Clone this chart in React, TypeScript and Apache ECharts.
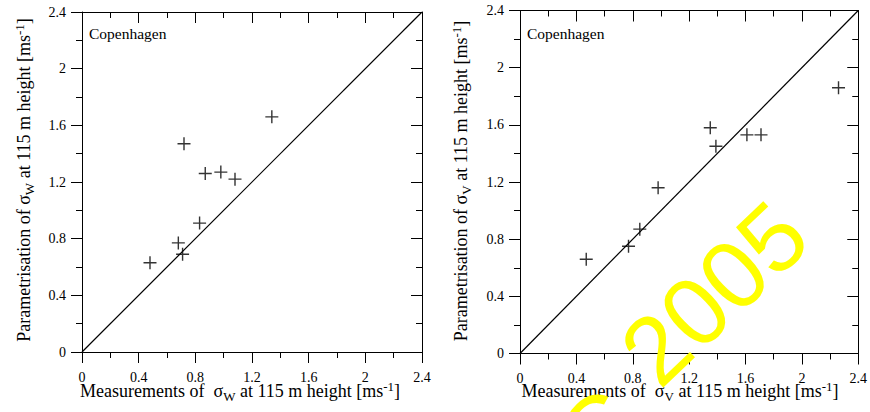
import React, { useEffect, useRef } from "react";
import * as echarts from "echarts";

// ---- data ----
const axisMin = 0;
const axisMax = 2.4;
const axisStep = 0.4;

const wMeasured = [0.48, 0.68, 0.71, 0.72, 0.83, 0.87, 0.98, 1.08, 1.34];
const wParam = [0.63, 0.77, 0.69, 1.47, 0.91, 1.26, 1.27, 1.22, 1.66];

const vMeasured = [0.47, 0.77, 0.85, 0.98, 1.35, 1.39, 1.61, 1.71, 2.26];
const vParam = [0.66, 0.75, 0.87, 1.16, 1.58, 1.45, 1.53, 1.53, 1.86];

const identityLine = [
  [0, 0],
  [2.4, 2.4],
];

const siteName = "Copenhagen";
const watermarkText = "2005";

const SERIF = "'Liberation Serif', 'Times New Roman', serif";
const SANS = "'Liberation Sans', Arial, sans-serif";
const PLUS =
  "path://M5.35,0H6.65V5.35H12V6.65H6.65V12H5.35V6.65H0V5.35H5.35Z";

const fmt = (v: number) => String(+Number(v).toFixed(1));

function axisPair(kind: "x" | "y", gridIndex: number) {
  const common = {
    gridIndex,
    type: "value",
    min: axisMin,
    max: axisMax,
    interval: axisStep,
    splitLine: { show: false },
    axisLine: { show: true, onZero: false, lineStyle: { color: "#000", width: 1 } },
    minorTick: { show: true, splitNumber: 2, length: 6, lineStyle: { color: "#000", width: 1 } },
    minorSplitLine: { show: false },
  };
  const main = {
    ...common,
    position: kind === "x" ? "bottom" : "left",
    axisTick: { show: true, inside: false, length: 11, lineStyle: { color: "#000", width: 1 } },
    axisLabel: {
      show: true,
      color: "#000",
      fontFamily: SERIF,
      fontSize: 14,
      margin: kind === "x" ? 18 : 16,
      formatter: fmt,
    },
  };
  const mirror = {
    ...common,
    position: kind === "x" ? "top" : "right",
    axisTick: { show: true, inside: true, length: 11, lineStyle: { color: "#000", width: 1 } },
    axisLabel: { show: false },
  };
  return [main, mirror];
}

function richTitle(prefix: string, sub: string) {
  return `{a|${prefix}}{s|${sub}}{a| at 115 m height [ms}{p|-1}{a|]}`;
}

const rich = {
  a: { fontFamily: SERIF, fontSize: 18, lineHeight: 23, fill: "#000", color: "#000" },
  s: { fontFamily: SERIF, fontSize: 13, lineHeight: 14, verticalAlign: "bottom", fill: "#000", color: "#000" },
  p: { fontFamily: SERIF, fontSize: 13, lineHeight: 10, verticalAlign: "top", fill: "#000", color: "#000" },
};

function titleText(x: number, y: number, text: string, rotation = 0) {
  return {
    type: "text",
    x,
    y,
    rotation,
    z: 10,
    style: {
      text,
      rich,
      fontFamily: SERIF,
      fontSize: 18,
      fill: "#000",
      align: "center",
      verticalAlign: "middle",
    },
  };
}

export default function App() {
  const ref = useRef<HTMLDivElement>(null);

  useEffect(() => {
    if (!ref.current) return;
    const chart = echarts.init(ref.current, null, { renderer: "svg" });
    const [x0, x0m] = axisPair("x", 0);
    const [y0, y0m] = axisPair("y", 0);
    const [x1, x1m] = axisPair("x", 1);
    const [y1, y1m] = axisPair("y", 1);

    const scatter = (xs: number[], ys: number[], idx: number) => ({
      type: "scatter",
      xAxisIndex: idx * 2,
      yAxisIndex: idx * 2,
      data: xs.map((v, i) => [v, ys[i]]),
      symbol: PLUS,
      symbolSize: 13,
      itemStyle: { color: "#000" },
      z: 5,
    });
    const diag = (idx: number) => ({
      type: "line",
      xAxisIndex: idx * 2,
      yAxisIndex: idx * 2,
      data: identityLine,
      showSymbol: false,
      symbol: "none",
      lineStyle: { color: "#000", width: 1.2 },
      z: 4,
    });

    chart.setOption({
      animation: false,
      backgroundColor: "#fff",
      grid: [
        { left: 82, top: 12, width: 340, height: 340, containLabel: false },
        { left: 520, top: 10.5, width: 342, height: 343, containLabel: false },
      ],
      xAxis: [x0, x0m, x1, x1m],
      yAxis: [y0, y0m, y1, y1m],
      series: [diag(0), scatter(wMeasured, wParam, 0), diag(1), scatter(vMeasured, vParam, 1)],
      graphic: [
        {
          type: "text",
          x: 89,
          y: 33,
          style: { text: siteName, fontFamily: SERIF, fontSize: 15.5, fill: "#000", verticalAlign: "middle" },
        },
        {
          type: "text",
          x: 527,
          y: 33,
          style: { text: siteName, fontFamily: SERIF, fontSize: 15.5, fill: "#000", verticalAlign: "middle" },
        },
        titleText(240, 391, richTitle("Measurements of  σ", "W")),
        titleText(680, 391, richTitle("Measurements of  σ", "V")),
        titleText(24, 180, richTitle("Parametrisation of σ", "W"), Math.PI / 2),
        titleText(461, 181, richTitle("Parametrisation of σ", "V"), Math.PI / 2),
        {
          type: "text",
          x: 714,
          y: 293,
          rotation: 0.76,
          z: 100,
          style: {
            text: watermarkText,
            fontFamily: SANS,
            fontSize: 96,
            fill: "#ffff00",
            align: "center",
            verticalAlign: "middle",
          },
        },
        {
          type: "text",
          x: 598,
          y: 430,
          rotation: 0.76,
          z: 100,
          style: {
            text: "C",
            fontFamily: SANS,
            fontSize: 96,
            fill: "#ffff00",
            align: "center",
            verticalAlign: "middle",
          },
        },
      ],
    });
    return () => chart.dispose();
  }, []);

  return (
    <div
      ref={ref}
      style={{ position: "fixed", left: 0, top: 0, width: 870, height: 412, background: "#fff" }}
    />
  );
}
